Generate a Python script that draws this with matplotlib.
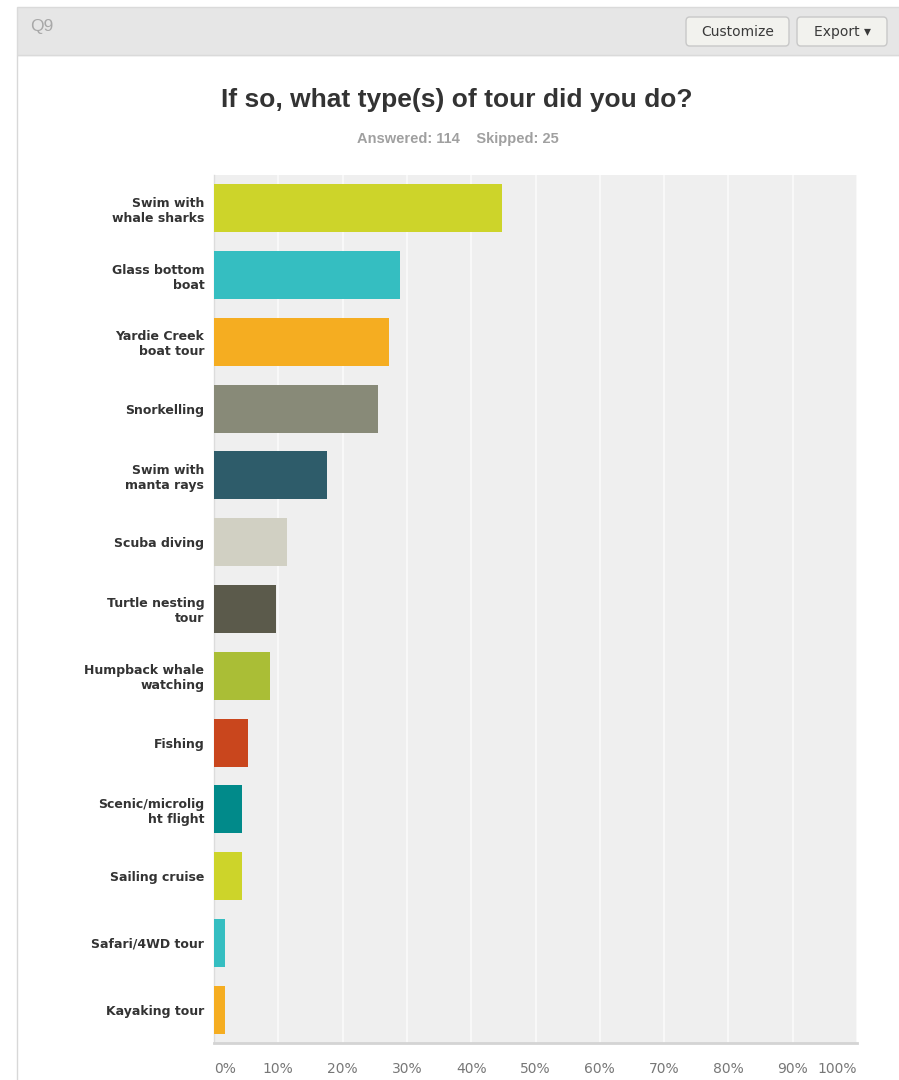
import matplotlib
matplotlib.use("Agg")
import matplotlib.pyplot as plt
from matplotlib.patches import Rectangle, FancyBboxPatch

# Survey results: share of respondents (%) per tour type
categories = [
    "Swim with\nwhale sharks",
    "Glass bottom\nboat",
    "Yardie Creek\nboat tour",
    "Snorkelling",
    "Swim with\nmanta rays",
    "Scuba diving",
    "Turtle nesting\ntour",
    "Humpback whale\nwatching",
    "Fishing",
    "Scenic/microlig\nht flight",
    "Sailing cruise",
    "Safari/4WD tour",
    "Kayaking tour",
]
percentages = [44.74, 28.95, 27.19, 25.44, 17.54, 11.40, 9.65, 8.77, 5.26, 4.39, 4.39, 1.75, 1.75]
bar_colors = [
    "#cdd42a", "#35bec1", "#f5ad21", "#888a78", "#2e5c6a", "#d1d0c3", "#5b5a4b",
    "#aabe36", "#c9461d", "#018a8a", "#cdd42a", "#35bec1", "#f5ad21",
]
x_ticks = [0, 10, 20, 30, 40, 50, 60, 70, 80, 90, 100]
x_tick_labels = ["0%", "10%", "20%", "30%", "40%", "50%", "60%", "70%", "80%", "90%", "100%"]

title = "If so, what type(s) of tour did you do?"
subtitle = "Answered: 114    Skipped: 25"

W, H = 899, 1080
fig = plt.figure(figsize=(W / 100, H / 100), dpi=100)
fig.patch.set_facecolor("white")


def fx(px):
    return px / W


def fy(py):
    return 1 - py / H


# Card frame and header strip
fig.patches.append(Rectangle((fx(17), -0.01), 1.0, fy(55) + 0.01, transform=fig.transFigure,
                             facecolor="white", edgecolor="#d8d8d8", linewidth=1.0, zorder=-3))
fig.patches.append(Rectangle((fx(17), fy(55)), 1.0, fy(7) - fy(55),
                             transform=fig.transFigure, facecolor="#e6e6e6",
                             edgecolor="#dadada", linewidth=1.0, zorder=-2))
fig.text(fx(30), fy(26), "Q9", fontsize=12.5, color="#a8a8a8", family="Liberation Sans",
         ha="left", va="center")

# Header buttons
for (x0, x1, label) in [(686, 789, "Customize"), (797, 887, "Export \u25be")]:
    fig.patches.append(FancyBboxPatch((fx(x0), fy(46)), fx(x1) - fx(x0), fy(17) - fy(46),
                                      boxstyle="round,pad=0,rounding_size=0.004",
                                      transform=fig.transFigure, facecolor="#f2f2ee",
                                      edgecolor="#c8c8c8", linewidth=1.0, zorder=-1))
    fig.text(fx((x0 + x1) / 2), fy(32), label, fontsize=10, color="#3a3a3a",
             family="DejaVu Sans", ha="center", va="center")

# Title and response counts
fig.text(fx(457), fy(100), title, fontsize=19, fontweight="bold", color="#333333",
         family="Liberation Sans", ha="center", va="center")
fig.text(fx(458), fy(139), subtitle, fontsize=10.5, fontweight="bold", color="#a0a0a0",
         family="Liberation Sans", ha="center", va="center")

# Bar chart
ax = fig.add_axes([fx(214), fy(1043), fx(857) - fx(214), fy(175) - fy(1043)])
ax.set_zorder(5)
ax.set_facecolor("#efefef")
ypos = list(range(len(categories)))
ax.barh(ypos, percentages, height=0.72, color=bar_colors, zorder=3)
ax.set_ylim(len(categories) - 0.5, -0.5)
ax.set_xlim(0, 100)
ax.set_yticks(ypos)
ax.set_yticklabels(categories, fontsize=9, fontweight="bold", color="#333333",
                   family="DejaVu Sans", linespacing=1.2)
ax.tick_params(axis="y", length=0, pad=7)
ax.set_xticks(x_ticks)
ax.set_xticklabels(x_tick_labels, fontsize=10, color="#777777", family="DejaVu Sans")
ax.tick_params(axis="x", length=0, pad=14)
labels = ax.get_xticklabels()
labels[0].set_ha("left")
labels[-1].set_ha("right")
ax.grid(axis="x", color="#fafafa", linewidth=1.2, zorder=1)
ax.set_axisbelow(True)
for side in ["top", "right"]:
    ax.spines[side].set_visible(False)
ax.spines["left"].set_color("#dcdcdc")
ax.spines["left"].set_linewidth(1.0)
ax.spines["bottom"].set_color("#d4d4d4")
ax.spines["bottom"].set_linewidth(2.0)

fig.savefig("out.png", dpi=100, facecolor="white")
